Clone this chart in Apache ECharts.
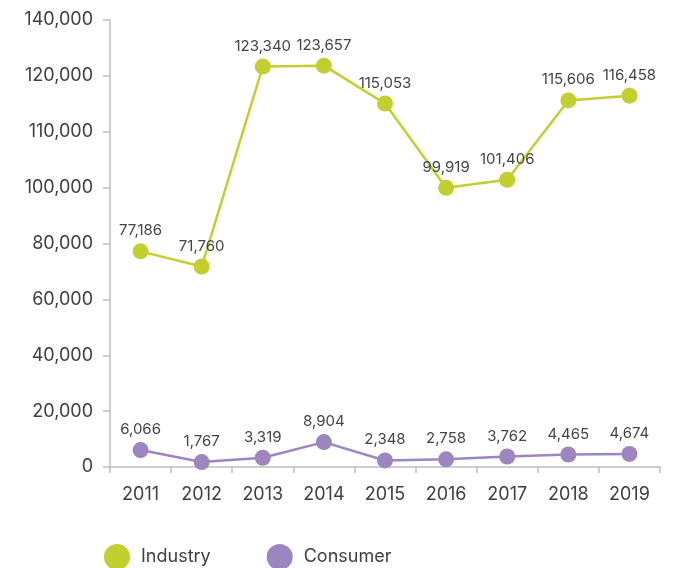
<!DOCTYPE html>
<html>
<head>
<meta charset="utf-8">
<script src="https://cdn.jsdelivr.net/npm/echarts@6/dist/echarts.min.js"></script>
<style>html,body{margin:0;padding:0;background:#fff}#c{width:673px;height:568px}</style>
</head>
<body>
<div id="c"></div>
<script>
const categories = ['2011','2012','2013','2014','2015','2016','2017','2018','2019'];
const industry = [77186, 71760, 123340, 123657, 115053, 99919, 101406, 115606, 116458];
const consumer = [6066, 1767, 3319, 8904, 2348, 2758, 3762, 4465, 4674];
// The printed y axis is not evenly valued: its ticks are evenly spaced but read as below
const tickValues = [0, 20000, 40000, 60000, 80000, 100000, 110000, 120000, 140000];

// map a value onto the chart's printed (piecewise) axis, in tick units
function toAxis(v) {
  for (let i = 0; i < tickValues.length - 1; i++) {
    const a = tickValues[i], b = tickValues[i + 1];
    if (v <= b || i === tickValues.length - 2) return i + (v - a) / (b - a);
  }
}
const fmt = v => v.toLocaleString('en-US');
const FONT = 'Inter';
const TXT = '#404040';

const chart = echarts.init(document.getElementById('c'), null, {renderer: 'canvas'});
function mk(name, raw, color) {
  return {
    name, type: 'line',
    data: raw.map(toAxis),
    symbol: 'circle', symbolSize: 16,
    lineStyle: {color, width: 2.5},
    itemStyle: {color},
    label: {
      show: true, position: 'top', distance: 5,
      color: '#454545', fontFamily: FONT, fontSize: 15,
      formatter: p => fmt(raw[p.dataIndex])
    },
    emphasis: {disabled: true},
    animation: false
  };
}
chart.setOption({
  animation: false,
  grid: {left: 110, right: 13, top: 20, bottom: 101},
  legend: {
    left: 99, bottom: -7, icon: 'circle', itemWidth: 26, itemHeight: 26, itemGap: 56,
    textStyle: {color: TXT, fontFamily: FONT, fontSize: 18, padding: [0, 0, 0, 6]},
    data: ['Industry', 'Consumer']
  },
  xAxis: {
    type: 'category', data: categories, boundaryGap: true,
    axisLine: {lineStyle: {color: '#bfbfbf', width: 1.5}},
    axisTick: {show: true, length: 6, lineStyle: {color: '#bfbfbf', width: 1.5}},
    axisLabel: {color: TXT, fontFamily: FONT, fontSize: 18, margin: 19}
  },
  yAxis: {
    type: 'value', min: 0, max: 8, interval: 1,
    axisLine: {show: true, lineStyle: {color: '#bfbfbf', width: 1.5}},
    axisTick: {show: true, length: 7, lineStyle: {color: '#bfbfbf', width: 1.5}},
    splitLine: {show: false},
    axisLabel: {color: TXT, fontFamily: FONT, fontSize: 18, margin: 17,
      formatter: v => fmt(tickValues[Math.round(v)])}
  },
  series: [mk('Industry', industry, '#c3cf2e'), mk('Consumer', consumer, '#9d86c0')]
});
</script>
</body>
</html>
